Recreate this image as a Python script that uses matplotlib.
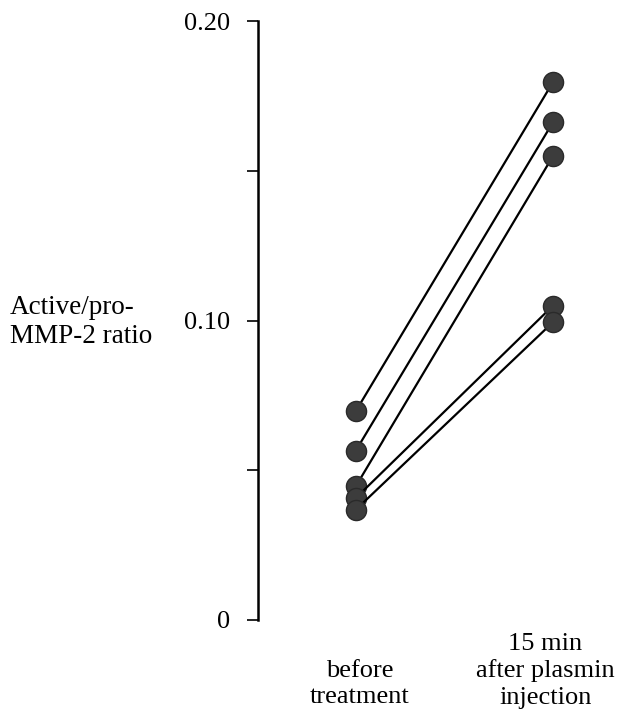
import matplotlib
matplotlib.use('Agg')
from matplotlib import pyplot as plt

# paired measurements, one line per animal
before = [0.0697, 0.0565, 0.0446, 0.0407, 0.0368]
after = [0.1797, 0.1663, 0.1550, 0.1050, 0.0995]
group_labels = ['before\ntreatment', '15 min\nafter plasmin\ninjection']
yticks = [0, 0.05, 0.10, 0.15, 0.20]
yticklabels = ['0', '', '0.10', '', '0.20']

plt.rcParams['font.family'] = ['Liberation Serif', 'DejaVu Serif']

fig = plt.figure(figsize=(6.24, 7.22), dpi=100)
W, H = 624, 722
ax = fig.add_axes([258 / W, (H - 620) / H, (610 - 258) / W, 599 / H])

for b, a in zip(before, after):
    ax.plot([0, 1], [b, a], '-', color='black', linewidth=1.6,
            marker='o', markersize=14.5, markerfacecolor='#3c3c3c',
            markeredgecolor='#2a2a2a', markeredgewidth=1)

# 1 unit on x = 198 px, before sits at x=356, after at x=553
ax.set_xlim(-98 / 198, 1 + 57 / 198)
ax.set_ylim(0, 0.20)

ax.set_yticks(yticks)
ax.set_yticklabels(yticklabels, fontsize=19)
ax.tick_params(axis='y', direction='out', length=8, width=1.2, pad=12)
ax.set_xticks([])

for side in ['top', 'right', 'bottom']:
    ax.spines[side].set_visible(False)
ax.spines['left'].set_linewidth(1.8)

# group labels under the points
ax.text(0.02, -40 / 599, group_labels[0], transform=ax.get_xaxis_transform(),
        ha='center', va='top', fontsize=19, linespacing=1.25)
ax.text(0.96, -13 / 599, group_labels[1], transform=ax.get_xaxis_transform(),
        ha='center', va='top', fontsize=19, linespacing=1.25)

fig.text(10 / W, (H - 322) / H, 'Active/pro-\nMMP-2 ratio', ha='left',
         va='center', fontsize=19.5, linespacing=1.2)

fig.savefig('out.png', dpi=100)
